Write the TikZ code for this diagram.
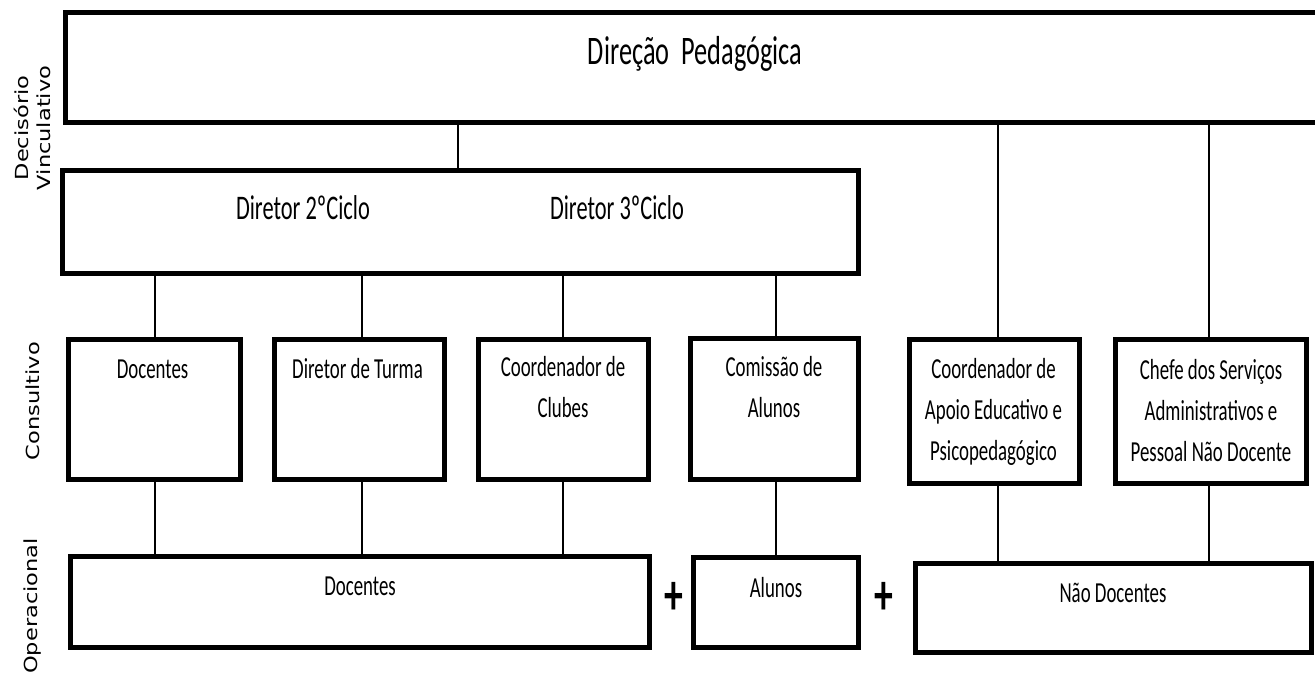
\documentclass[tikz,border=0pt]{standalone}
\usepackage{fontspec}
\newfontfamily\boxfont[FakeStretch=0.65]{Carlito}
\newfontfamily\sidefont[FakeStretch=1.25]{DejaVu Sans}
\begin{document}
\begin{tikzpicture}[x=1pt,y=-1pt,
  box/.style={draw=black,line width=5pt,inner sep=0pt},
  conn/.style={draw=black,line width=1.3pt},
  lbl/.style={font=\boxfont\fontsize{29}{41}\selectfont,align=center,anchor=base,inner sep=0pt},
  dlbl/.style={font=\boxfont\fontsize{34.5}{40}\selectfont,anchor=base,inner sep=0pt},
  tlbl/.style={font=\boxfont\fontsize{40.5}{44}\selectfont,anchor=base,inner sep=0pt},
  plus/.style={font=\boxfont\bfseries\fontsize{58}{60}\selectfont,inner sep=0pt},
  side/.style={font=\sidefont\fontsize{18}{22}\selectfont,align=center,rotate=90,inner sep=0pt}]
\useasboundingbox (0,0) rectangle (1315,674);
\clip (0,0) rectangle (1315,674);
% boxes
\node[box,minimum width=1257pt,minimum height=110pt] (dp) at (694,67.5) {};
\node[box,minimum width=796pt,minimum height=103pt] (dirb) at (460.5,222) {};
\node[box,minimum width=172pt,minimum height=140pt] (c1) at (154.5,409.5) {};
\node[box,minimum width=170pt,minimum height=140pt] (c2) at (359.5,409.5) {};
\node[box,minimum width=170pt,minimum height=140pt] (c3) at (563.5,409.5) {};
\node[box,minimum width=168pt,minimum height=141pt] (c4) at (774.5,409) {};
\node[box,minimum width=170pt,minimum height=144pt] (c5) at (994.5,411.5) {};
\node[box,minimum width=191pt,minimum height=144pt] (c6) at (1211,411.5) {};
\node[box,minimum width=579pt,minimum height=91pt] (o1) at (360,602) {};
\node[box,minimum width=165pt,minimum height=90pt] (o2) at (776,602.5) {};
\node[box,minimum width=396pt,minimum height=89pt] (o3) at (1113.5,608) {};
% texts (base = baseline of last line)
\node[tlbl] (tdp) at (695,65) {Direção\ \ Pedagógica};
\node[dlbl] (td2) at (303,219) {Diretor 2ºCiclo};
\node[dlbl] (td3) at (617,219) {Diretor 3ºCiclo};
\node[lbl] (t1) at (152.5,378) {Docentes};
\node[lbl] (t2) at (357.5,378) {Diretor de Turma};
\node[lbl] (t3) at (563,417) {Coordenador de\\Clubes};
\node[lbl] (t4) at (774,417) {Comissão de\\Alunos};
\node[lbl] (t5) at (993.5,460) {Coordenador de\\Apoio Educativo e\\Psicopedagógico};
\node[lbl] (t6) at (1211,461) {Chefe dos Serviços\\Administrativos e\\Pessoal Não Docente};
\node[lbl] (to1) at (360,595) {Docentes};
\node[lbl] (to2) at (776,597) {Alunos};
\node[lbl] (to3) at (1113,602) {Não Docentes};
\node[plus] (p1) at (674,598) {+};
\node[plus] (p2) at (884,598) {+};
% side labels
\node[side] (s1) at (32,128) {Decisório\\Vinculativo};
\node[side] (s2) at (33,401) {Consultivo};
\node[side] (s3) at (33,606) {Operacional};
% connector x positions
\coordinate (k1) at (458,0);
\coordinate (k2) at (998,0);
\coordinate (k3) at (1209,0);
\coordinate (k4) at (155,0);
\coordinate (k5) at (362,0);
\coordinate (k6) at (563,0);
\coordinate (k7) at (776,0);
\draw[conn] (dp.south -| k1) -- (dirb.north -| k1);
\draw[conn] (dp.south -| k2) -- (c5.north -| k2);
\draw[conn] (dp.south -| k3) -- (c6.north -| k3);
\draw[conn] (dirb.south -| k4) -- (c1.north -| k4);
\draw[conn] (dirb.south -| k5) -- (c2.north -| k5);
\draw[conn] (dirb.south -| k6) -- (c3.north -| k6);
\draw[conn] (dirb.south -| k7) -- (c4.north -| k7);
\draw[conn] (c1.south -| k4) -- (o1.north -| k4);
\draw[conn] (c2.south -| k5) -- (o1.north -| k5);
\draw[conn] (c3.south -| k6) -- (o1.north -| k6);
\draw[conn] (c4.south -| k7) -- (o2.north -| k7);
\draw[conn] (c5.south -| k2) -- (o3.north -| k2);
\draw[conn] (c6.south -| k3) -- (o3.north -| k3);
\end{tikzpicture}
\end{document}
